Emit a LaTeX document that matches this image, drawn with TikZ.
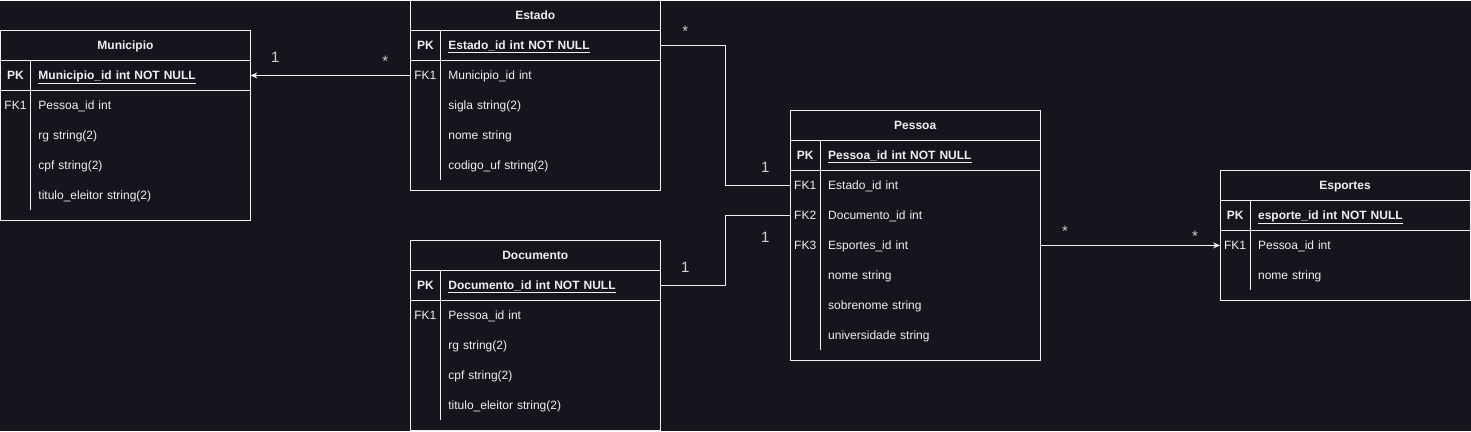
\documentclass[tikz,border=0pt]{standalone}
\usepackage{fontspec}
\setmainfont{Liberation Sans}
\usetikzlibrary{arrows.meta}
\setlength{\parindent}{0pt}
\definecolor{c18141d}{RGB}{24,20,29}
\definecolor{cf0f0f0}{RGB}{240,240,240}
\definecolor{cd0d0d0}{RGB}{208,208,208}
\newcommand{\keycol}[1]{\makebox[30pt][c]{#1}\hspace{8pt}}
\newcommand{\pkrow}[1]{\keycol{\bfseries PK}\textbf{\underline{#1}}}

\begin{document}
\begin{tikzpicture}[y=1pt, x=1pt, yscale=-1, inner sep=0pt, outer sep=0pt,
  every node/.style={text=cf0f0f0, font=\fontsize{12}{14}\selectfont},
  title/.style={font=\fontsize{12}{14}\selectfont\bfseries,
    text height=8pt, text depth=0pt},
  row/.style={anchor=west, minimum width=250pt, minimum height=30pt,
    text width=250pt, align=left, text height=8pt, text depth=0pt},
  card/.style={draw=cf0f0f0, fill=c18141d, line width=1pt},
  rule/.style={draw=cf0f0f0, line width=1pt},
  link/.style={draw=cf0f0f0, line width=1pt},
  mult/.style={anchor=base, text=cd0d0d0, font=\fontsize{15}{17}\selectfont}]
  \path[fill=c18141d] (0,0) rectangle (1471,431);

  % Municipio
  \path[card] (0,30) rectangle (250,220);
  \path[rule] (0,60) -- (250,60) (0,90) -- (250,90) (30,60) -- (30,210);
  \node[title] (munTitle) at (125,45) {Municipio};
  \node[row] (munPK) at (0,75) {\pkrow{Municipio\_id int NOT NULL}};
  \node[row] (munFK1) at (0,105) {\keycol{FK1}Pessoa\_id int};
  \node[row] (munRg) at (0,135) {\keycol{}rg string(2)};
  \node[row] (munCpf) at (0,165) {\keycol{}cpf string(2)};
  \node[row] (munTitulo) at (0,195) {\keycol{}titulo\_eleitor string(2)};

  % Estado
  \path[card] (410,0) rectangle (660,190);
  \path[rule] (410,30) -- (660,30) (410,60) -- (660,60) (440,30) -- (440,180);
  \node[title] (estTitle) at (535,15) {Estado};
  \node[row] (estPK) at (410,45) {\pkrow{Estado\_id int NOT NULL}};
  \node[row] (estFK1) at (410,75) {\keycol{FK1}Municipio\_id int};
  \node[row] (estSigla) at (410,105) {\keycol{}sigla string(2)};
  \node[row] (estNome) at (410,135) {\keycol{}nome string};
  \node[row] (estCodigo) at (410,165) {\keycol{}codigo\_uf string(2)};

  % Documento
  \path[card] (410,240) rectangle (660,430);
  \path[rule] (410,270) -- (660,270) (410,300) -- (660,300) (440,270) -- (440,420);
  \node[title] (docTitle) at (535,255) {Documento};
  \node[row] (docPK) at (410,285) {\pkrow{Documento\_id int NOT NULL}};
  \node[row] (docFK1) at (410,315) {\keycol{FK1}Pessoa\_id int};
  \node[row] (docRg) at (410,345) {\keycol{}rg string(2)};
  \node[row] (docCpf) at (410,375) {\keycol{}cpf string(2)};
  \node[row] (docTitulo) at (410,405) {\keycol{}titulo\_eleitor string(2)};

  % Pessoa
  \path[card] (790,110) rectangle (1040,360);
  \path[rule] (790,140) -- (1040,140) (790,170) -- (1040,170) (820,140) -- (820,350);
  \node[title] (pesTitle) at (915,125) {Pessoa};
  \node[row] (pesPK) at (790,155) {\pkrow{Pessoa\_id int NOT NULL}};
  \node[row] (pesFK1) at (790,185) {\keycol{FK1}Estado\_id int};
  \node[row] (pesFK2) at (790,215) {\keycol{FK2}Documento\_id int};
  \node[row] (pesFK3) at (790,245) {\keycol{FK3}Esportes\_id int};
  \node[row] (pesNome) at (790,275) {\keycol{}nome string};
  \node[row] (pesSobrenome) at (790,305) {\keycol{}sobrenome string};
  \node[row] (pesUniv) at (790,335) {\keycol{}universidade string};

  % Esportes
  \path[card] (1220,170) rectangle (1470,300);
  \path[rule] (1220,200) -- (1470,200) (1220,230) -- (1470,230) (1250,200) -- (1250,290);
  \node[title] (espTitle) at (1345,185) {Esportes};
  \node[row] (espPK) at (1220,215) {\pkrow{esporte\_id int NOT NULL}};
  \node[row] (espFK1) at (1220,245) {\keycol{FK1}Pessoa\_id int};
  \node[row] (espNome) at (1220,275) {\keycol{}nome string};

  % relations
  \draw[link, -{Stealth[length=7pt, width=6pt]}] (estFK1.west) -- (munPK.east);
  \draw[link] (estPK.east) -- ++(65,0) |- (pesFK1.west);
  \draw[link] (docPK.east) -- ++(65,0) |- (pesFK2.west);
  \draw[link, -{Stealth[length=7pt, width=6pt]}] (pesFK3.east) -- (espFK1.west);

  \node[mult] (m1) at (275,62) {1};
  \node[mult] (m2) at (385,66) {*};
  \node[mult] (m3) at (685,36) {*};
  \node[mult] (m4) at (765,172) {1};
  \node[mult] (m5) at (685,272) {1};
  \node[mult] (m6) at (765,242) {1};
  \node[mult] (m7) at (1065,236) {*};
  \node[mult] (m8) at (1195,241) {*};
\end{tikzpicture}
\end{document}
